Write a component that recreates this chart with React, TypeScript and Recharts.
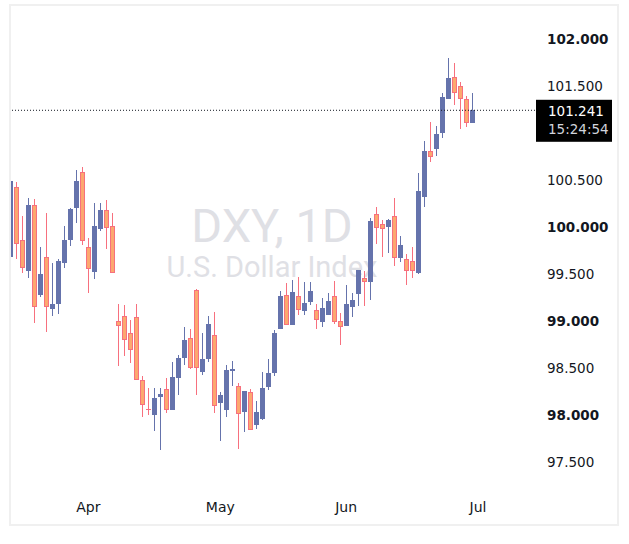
import React from 'react';
import { ComposedChart, Bar, XAxis, YAxis, ReferenceLine } from 'recharts';

// daily OHLC, mid-March to end of June
const opens = [
  99.684, 100.42, 99.862, 99.535, 100.234, 99.277, 99.678, 99.131, 99.181, 99.62,
  99.862, 100.205, 100.582, 99.784, 99.524, 99.975, 100.181, 100.011, 98.997, 99.05,
  98.869, 99.039, 98.372, 98.06, 98.003, 98.188, 98.277, 98.056, 98.397, 98.61,
  98.816, 99.326, 98.461, 98.599, 98.848, 98.124, 98.05, 98.465, 98.305, 98.029,
  98.241, 97.897, 97.961, 98.295, 98.45, 98.918, 99.273, 98.96, 99.263, 99.11,
  99.199, 99.117, 98.989, 99.067, 99.263, 98.997, 98.947, 99.152, 99.284, 99.454,
  99.418, 100.135, 100.029, 100.004, 100.117, 99.667, 99.66, 99.635, 99.514, 100.322,
  100.805, 100.826, 100.997, 101.359, 101.593, 101.497, 101.359, 101.11,
];
const highs = [
  100.535, 100.475, 100.117, 100.312, 100.298, 99.784, 100.152, 99.614, 99.66, 100.011,
  100.205, 100.606, 100.641, 99.883, 100.252, 100.259, 100.287, 100.152, 99.181, 99.17,
  99.011, 99.181, 98.415, 98.29, 98.29, 98.29, 98.397, 98.564, 98.638, 98.936,
  98.915, 99.34, 98.876, 99.053, 99.096, 98.241, 98.532, 98.574, 98.34, 98.255,
  98.277, 98.152, 98.461, 98.596, 98.904, 99.319, 99.408, 99.436, 99.468, 99.415,
  99.418, 99.178, 99.245, 99.301, 99.426, 99.082, 99.38, 99.301, 99.543, 99.535,
  100.099, 100.213, 100.074, 100.085, 100.309, 99.904, 99.713, 99.784, 100.571, 100.918,
  101.117, 101.074, 101.429, 101.798, 101.745, 101.543, 101.394, 101.429,
];
const lows = [
  99.585, 99.663, 99.507, 99.461, 98.982, 99.259, 98.886, 99.056, 99.074, 99.567,
  99.801, 100.046, 99.809, 99.301, 99.45, 99.954, 99.763, 99.507, 98.524, 98.631,
  98.549, 98.372, 97.976, 98.0, 97.833, 97.628, 98.018, 98.056, 98.216, 98.535,
  98.486, 98.213, 98.429, 98.567, 98.018, 97.727, 97.976, 98.312, 97.635, 97.822,
  97.837, 97.854, 97.947, 98.266, 98.418, 98.918, 98.954, 98.96, 99.067, 99.064,
  99.17, 98.918, 98.94, 99.064, 98.968, 98.748, 98.947, 99.046, 99.16, 99.163,
  99.223, 99.819, 99.684, 99.72, 99.588, 99.631, 99.383, 99.461, 99.497, 100.21,
  100.695, 100.755, 100.95, 101.359, 101.301, 101.046, 101.067, 101.11,
];
const closes = [
  100.489, 99.816, 99.561, 100.234, 99.152, 99.5, 99.146, 99.181, 99.638, 99.862,
  100.191, 100.489, 99.848, 99.55, 100.011, 100.181, 99.986, 99.507, 98.944, 98.795,
  98.688, 98.372, 98.103, 98.05, 98.181, 98.223, 98.053, 98.404, 98.606, 98.798,
  98.503, 98.497, 98.596, 98.968, 98.093, 98.209, 98.479, 98.489, 98.007, 98.255,
  97.837, 98.032, 98.287, 98.447, 98.872, 99.266, 98.954, 99.31, 99.117, 99.191,
  99.319, 99.007, 99.142, 99.213, 98.986, 98.933, 99.181, 99.223, 99.543, 99.418,
  100.064, 99.993, 99.982, 100.074, 99.667, 99.809, 99.528, 99.528, 100.383, 100.809,
  100.748, 100.989, 101.383, 101.585, 101.429, 101.359, 101.103, 101.241,
];

const monthTicks = [13, 35, 56, 78];
const monthLabels = ['Apr', 'May', 'Jun', 'Jul'];
const priceTicks = [97.5, 98, 98.5, 99, 99.5, 100, 100.5, 101.5, 102];
const boldTicks = [98, 99, 100, 102];
const lastPrice = 101.241;
const countdown = '15:24:54';
const futureSlots = 10;

const UP = '#6573ac';
const DOWN_FILL = '#fca86f';
const DOWN_LINE = '#f7707e';
const TEXT = '#131722';
const FONT = '"DejaVu Sans", sans-serif';

const rows = Array.from({ length: opens.length + futureSlots }, (_, i) =>
  i < opens.length
    ? { slot: i, open: opens[i], high: highs[i], low: lows[i], close: closes[i] }
    : { slot: i },
);

function Candle(props: any) {
  const { x, y, width, height, payload } = props;
  if (!payload || payload.open == null) return null;
  const { open, high, low, close } = payload;
  const top = Math.min(y, y + height);
  const span = Math.abs(height);
  const toY = (v: number) => (high === low ? top : top + ((high - v) / (high - low)) * span);
  const cx = x + width / 2;
  const up = close >= open;
  const left = Math.round(cx - 2.5);
  const bTop = Math.round(toY(Math.max(open, close)));
  const bBot = Math.max(bTop + 1, Math.round(toY(Math.min(open, close))));
  const wTop = Math.round(top);
  const wBot = Math.max(wTop + 1, Math.round(top + span));
  const wickColor = up ? UP : DOWN_LINE;
  return (
    <g>
      <rect x={Math.floor(cx)} y={wTop} width={1} height={wBot - wTop} fill={wickColor} />
      {up || bBot - bTop < 3 ? (
        <rect x={left} y={bTop} width={5} height={bBot - bTop} fill={up ? UP : DOWN_LINE} />
      ) : (
        <rect
          x={left + 0.5}
          y={bTop + 0.5}
          width={4}
          height={bBot - bTop - 1}
          fill={DOWN_FILL}
          stroke={DOWN_LINE}
          strokeWidth={1}
        />
      )}
    </g>
  );
}

function PriceTick(props: any) {
  const { x, y, payload } = props;
  const bold = boldTicks.includes(payload.value);
  return (
    <text
      x={x}
      y={y}
      dy="0.355em"
      textAnchor="start"
      fill={TEXT}
      fontSize={13.5}
      fontFamily={FONT}
      fontWeight={bold ? 700 : 400}
    >
      {payload.value.toFixed(3)}
    </text>
  );
}

function PriceTag(props: any) {
  const vb = props.viewBox;
  if (!vb) return null;
  const left = vb.x + vb.width + 1;
  return (
    <g>
      <rect x={left} y={vb.y - 10.5} width={76} height={42} fill="#000" />
      <text x={left + 12} y={vb.y + 1} dy="0.355em" fill="#fff" fontSize={13.5} fontFamily={FONT}>
        {lastPrice.toFixed(3)}
      </text>
      <text x={left + 12} y={vb.y + 19} dy="0.355em" fill="#d1d4dc" fontSize={13.5} fontFamily={FONT}>
        {countdown}
      </text>
    </g>
  );
}

export default function App() {
  return (
    <div style={{ position: 'absolute', left: 0, top: 0, width: 629, height: 544, background: '#fff' }}>
      <div
        style={{
          position: 'absolute',
          left: 9,
          top: 4,
          width: 610,
          height: 522,
          boxSizing: 'border-box',
          border: '2px solid #f0f0f0',
          overflow: 'hidden',
        }}
      >
        <svg
          width={629}
          height={544}
          style={{ position: 'absolute', left: -11, top: -6 }}
        >
          <text x={272} y={242} textAnchor="middle" fontSize={47} fontFamily="Roboto" fill="#dfe0e5">
            DXY, 1D
          </text>
          <text x={272} y={277} textAnchor="middle" fontSize={29} fontFamily="Roboto" fill="#dfe0e5">
            U.S. Dollar Index
          </text>
        </svg>
        <div style={{ position: 'absolute', left: -11, top: -6 }}>
          <ComposedChart
            width={629}
            height={544}
            data={rows}
            margin={{ top: 6, right: 10, bottom: 19, left: 7.5 }}
          >
            <XAxis
              dataKey="slot"
              type="category"
              ticks={monthTicks}
              interval={0}
              tickFormatter={(v) => monthLabels[monthTicks.indexOf(v)] ?? ''}
              axisLine={false}
              tickLine={false}
              tickSize={0}
              tickMargin={7}
              height={30}
              tick={{ fill: TEXT, fontSize: 14, fontFamily: FONT }}
            />
            <YAxis
              orientation="right"
              type="number"
              domain={[97.15, 102.35]}
              allowDataOverflow
              ticks={priceTicks}
              interval={0}
              width={84}
              axisLine={false}
              tickLine={false}
              tickSize={0}
              tickMargin={12}
              tick={<PriceTick />}
            />
            <ReferenceLine
              y={lastPrice}
              stroke={TEXT}
              strokeDasharray="1 2"
              label={<PriceTag />}
            />
            <Bar
              dataKey={(d: any) => (d.low == null ? null : [d.low, d.high])}
              shape={<Candle />}
              isAnimationActive={false}
            />
          </ComposedChart>
        </div>
      </div>
    </div>
  );
}
